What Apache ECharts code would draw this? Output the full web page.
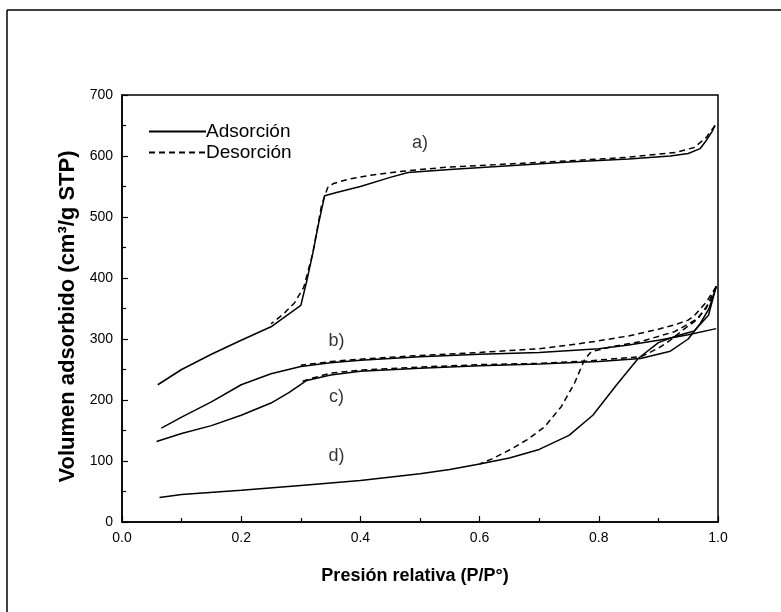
<!DOCTYPE html>
<html>
<head>
<meta charset="utf-8">
<script src="https://cdn.jsdelivr.net/npm/echarts@6/dist/echarts.min.js"></script>
<style>html,body{margin:0;padding:0;background:#fff;}#c{width:781px;height:612px;}</style>
</head>
<body>
<div id="c"></div>
<script>
// Tick labels
const xTicks = ['0.0','0.2','0.4','0.6','0.8','1.0'];
const yTicks = ['0','100','200','300','400','500','600','700'];

// a) sample
const aAdsP = [0.06,0.10,0.15,0.20,0.25,0.30,0.31,0.32,0.33,0.34,0.36,0.40,0.45,0.48,0.55,0.65,0.75,0.85,0.92,0.95,0.97,0.98,0.99,0.995];
const aAdsV = [225,250,275,298,320,355,395,440,490,535,540,550,565,573,578,584,590,595,600,604,612,625,640,650];
const aDesP = [0.995,0.98,0.96,0.93,0.85,0.75,0.65,0.55,0.48,0.42,0.38,0.355,0.345,0.335,0.32,0.305,0.29,0.27,0.25];
const aDesV = [650,630,614,606,598,592,587,582,576,569,562,555,548,520,440,385,360,340,325];

// b) sample
const bAdsP = [0.066,0.10,0.15,0.20,0.25,0.30,0.35,0.40,0.50,0.60,0.70,0.80,0.85,0.90,0.95,0.997];
const bAdsV = [154,172,197,225,243,255,261,265,271,275,278,284,290,298,307,317];
const bDesP = [0.997,0.98,0.96,0.95,0.93,0.90,0.85,0.80,0.75,0.70,0.60,0.50,0.40,0.35,0.30];
const bDesV = [386,360,338,331,324,316,305,297,290,284,278,273,267,263,257];

// c) sample
const cAdsP = [0.058,0.10,0.15,0.20,0.25,0.28,0.31,0.35,0.40,0.50,0.60,0.70,0.80,0.87,0.92,0.95,0.97,0.985,0.997];
const cAdsV = [132,145,158,175,195,212,232,241,247,252,256,259,263,268,280,300,325,350,386];
const cDesP = [0.997,0.98,0.96,0.944,0.92,0.90,0.871,0.78,0.70,0.60,0.50,0.40,0.35,0.32,0.30];
const cDesV = [386,350,328,317,298,285,271,264,260,258,254,249,244,236,230];

// d) sample
const dAdsP = [0.063,0.10,0.20,0.30,0.40,0.50,0.55,0.60,0.65,0.70,0.75,0.79,0.83,0.866,0.90,0.93,0.96,0.984,0.997];
const dAdsV = [40,45,52,60,68,79,86,95,105,119,142,175,225,268,294,305,313,339,386];
const dDesP = [0.997,0.984,0.967,0.927,0.871,0.82,0.787,0.776,0.759,0.737,0.709,0.68,0.65,0.62,0.60];
const dDesV = [386,358,334,312,296,287,279,266,227,189,156,135,118,103,95];

// Curve labels (data coordinates)
const labelText = ['a)','b)','c)','d)'];
const labelP = [0.50,0.36,0.36,0.36];
const labelV = [622,296,205,108];

const pair = (p, v) => p.map((x, i) => [x, v[i]]);
const FONT = '"Liberation Sans", Arial, sans-serif';

function lineSeries(name, p, v, dashed) {
  return {
    type: 'line', name: name, data: pair(p, v),
    showSymbol: false, symbol: 'none', smooth: false, silent: true, z: 3,
    lineStyle: { color: '#000', width: 1.5, type: dashed ? [6, 4] : 'solid' },
    itemStyle: { color: '#000' }
  };
}

const chart = echarts.init(document.getElementById('c'), null, { renderer: 'canvas' });
chart.setOption({
  animation: false,
  backgroundColor: '#fff',
  grid: { left: 122, right: 63, top: 95, bottom: 90, show: true, borderColor: '#000', borderWidth: 1.5, backgroundColor: 'transparent' },
  legend: {
    orient: 'vertical', left: 148, top: 122, padding: 0,
    data: ['Adsorción', 'Desorción'],
    itemWidth: 57, itemHeight: 14, itemGap: 2,
    itemStyle: { color: 'rgba(0,0,0,0)', borderWidth: 0, opacity: 0 },
    textStyle: { fontFamily: FONT, fontSize: 19, color: '#000', padding: [0, 0, 0, -5] },
    selectedMode: false
  },
  xAxis: {
    type: 'value', min: 0, max: 1, interval: 0.2,
    name: 'Presión relativa (P/P°)', nameLocation: 'middle', nameGap: 45,
    nameTextStyle: { fontFamily: FONT, fontSize: 18, fontWeight: 'bold', color: '#000', padding: [0, 10, 0, 0] },
    axisLine: { show: true, lineStyle: { color: '#000', width: 1.5 } },
    axisTick: { show: true, inside: true, length: 6, lineStyle: { color: '#000', width: 1.2 } },
    minorTick: { show: true, splitNumber: 2, length: 4, lineStyle: { color: '#000', width: 1.2 } },
    splitLine: { show: false },
    axisLabel: { fontFamily: FONT, fontSize: 14, color: '#000', margin: 9, formatter: (v) => xTicks[Math.round(v / 0.2)] }
  },
  yAxis: {
    type: 'value', min: 0, max: 700, interval: 100,
    name: 'Volumen adsorbido (cm³/g STP)', nameLocation: 'middle', nameGap: 41,
    nameTextStyle: { fontFamily: FONT, fontSize: 22, fontWeight: 'bold', color: '#000', padding: [0, 16, 0, 0] },
    axisLine: { show: true, lineStyle: { color: '#000', width: 1.5 } },
    axisTick: { show: true, inside: true, length: 6, lineStyle: { color: '#000', width: 1.2 } },
    minorTick: { show: true, splitNumber: 2, length: 4, lineStyle: { color: '#000', width: 1.2 } },
    splitLine: { show: false },
    axisLabel: { fontFamily: FONT, fontSize: 14, color: '#000', margin: 9, formatter: (v) => yTicks[Math.round(v / 100)] }
  },
  graphic: [
    { type: 'line', shape: { x1: 7, y1: 10, x2: 781, y2: 10 }, style: { stroke: '#000', lineWidth: 1.5 } },
    { type: 'line', shape: { x1: 7, y1: 10, x2: 7, y2: 612 }, style: { stroke: '#000', lineWidth: 1.5 } }
  ],
  series: [
    lineSeries('Adsorción', aAdsP, aAdsV, false),
    lineSeries('Desorción', aDesP, aDesV, true),
    lineSeries('Adsorción', bAdsP, bAdsV, false),
    lineSeries('Desorción', bDesP, bDesV, true),
    lineSeries('Adsorción', cAdsP, cAdsV, false),
    lineSeries('Desorción', cDesP, cDesV, true),
    lineSeries('Adsorción', dAdsP, dAdsV, false),
    lineSeries('Desorción', dDesP, dDesV, true),
    {
      type: 'scatter', name: 'labels', silent: true, symbolSize: 0,
      data: labelText.map((t, i) => ({ value: [labelP[i], labelV[i]], name: t })),
      label: { show: true, position: 'inside', formatter: (p) => p.name, fontFamily: FONT, fontSize: 18, color: '#000' }
    }
  ]
});
</script>
</body>
</html>
